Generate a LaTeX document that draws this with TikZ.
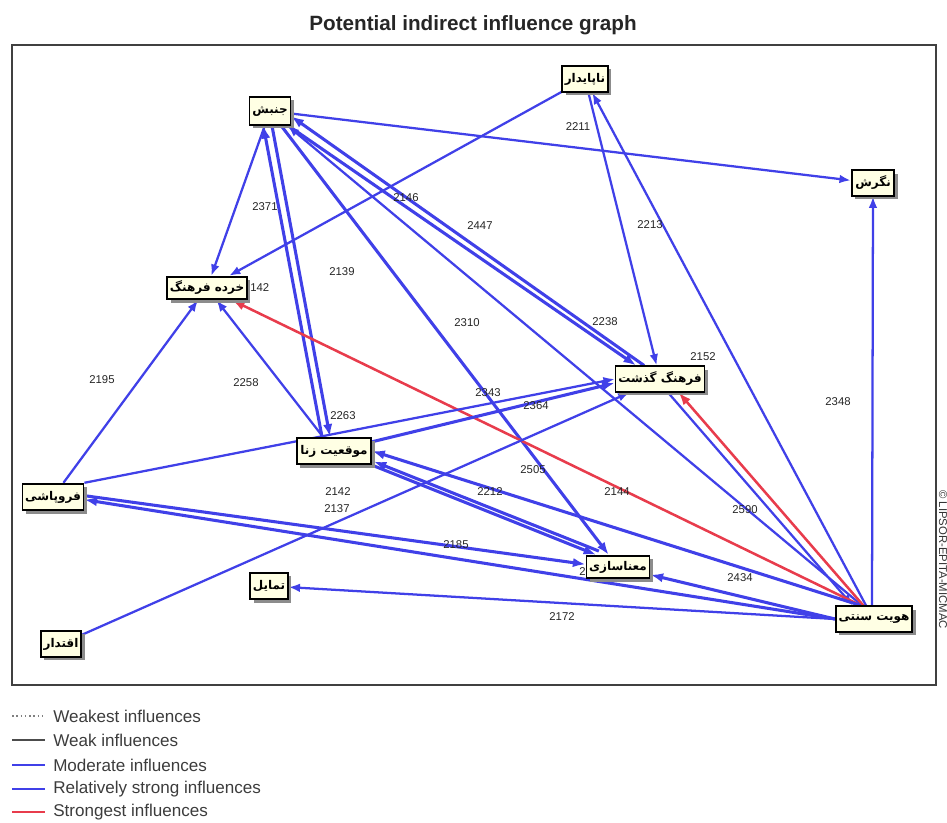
\documentclass[tikz,border=0pt]{standalone}
\usepackage{fontspec}
\setmainfont{Liberation Sans}
\newfontfamily\arabicfont[Script=Arabic]{DejaVu Sans}
\TeXXeTstate=1
\usetikzlibrary{arrows.meta,shadows,backgrounds}
\definecolor{eblue}{RGB}{64,64,232}
\definecolor{ered}{RGB}{232,60,76}
\definecolor{boxfill}{RGB}{255,255,228}
\definecolor{legtext}{RGB}{60,60,60}
\begin{document}
\begin{tikzpicture}[x=0.75pt,y=-0.75pt,
  vbox/.style={draw=black, line width=1.3pt, fill=boxfill, inner xsep=2pt, inner ysep=1pt,
    font=\arabicfont\bfseries\fontsize{9}{10}\selectfont,
    drop shadow={shadow xshift=2.6pt, shadow yshift=-2.6pt, fill=black!45, opacity=1}},
  num/.style={font=\fontsize{8.5}{9}\selectfont, inner sep=0pt, text=black!85},
  mod/.style={draw=eblue, line width=1.7pt, -{Latex[length=8.5pt,width=6.5pt]}},
  strong/.style={draw=eblue, line width=2.3pt, -{Latex[length=9.5pt,width=7pt]}},
  top/.style={draw=ered, line width=1.9pt, -{Latex[length=9.5pt,width=7pt]}},
  legline/.style={line width=#1},
  legtxt/.style={anchor=west, font=\fontsize{12.8}{14}\selectfont, text=legtext, inner sep=0pt}
]
\useasboundingbox (0,0) rectangle (947,823);

% title and frame
\node[font=\bfseries\fontsize{15.5}{17}\selectfont, text=black!85] (title) at (473,25) {Potential indirect influence graph};
\draw[line width=1.1pt, draw=black!75] (12,45) rectangle (936,685);
\node[rotate=-90, anchor=base west, font=\fontsize{8.5}{9}\selectfont, text=black!80, inner sep=0pt] (copy) at (939,490) {\textcopyright\ LIPSOR-EPITA-MICMAC};

% nodes
\node[vbox, minimum width=30pt, minimum height=21pt] (jon) at (270,111) {\beginR جنبش\endR};
\node[vbox, minimum width=33pt, minimum height=19.5pt] (nap) at (585,79) {\beginR ناپایدار\endR};
\node[vbox, minimum width=32pt, minimum height=19pt] (neg) at (873,183) {\beginR نگرش\endR};
\node[vbox, minimum width=59pt, minimum height=17pt] (kho) at (207,288) {\beginR خرده فرهنگ\endR};
\node[vbox, minimum width=66pt, minimum height=19pt] (far) at (660,379) {\beginR فرهنگ گذشت\endR};
\node[vbox, minimum width=56pt, minimum height=20pt] (mow) at (334,451) {\beginR موقعیت زنا\endR};
\node[vbox, minimum width=43pt, minimum height=20pt] (forup) at (53,497) {\beginR فروپاشی\endR};
\node[vbox, minimum width=47pt, minimum height=17pt] (mana) at (618,567) {\beginR معناسازی\endR};
\node[vbox, minimum width=26pt, minimum height=20pt] (tam) at (269,586) {\beginR تمایل\endR};
\node[vbox, minimum width=28pt, minimum height=19.5pt] (eqt) at (61,644) {\beginR اقتدار\endR};
\node[vbox, minimum width=54pt, minimum height=19pt] (hov) at (874,619) {\beginR هویت سنتی\endR};

\begin{scope}[on background layer]
% connectors
\draw[mod] (jon) -- (neg);
\draw[mod] (nap) -- (kho);
\draw[mod] (jon) -- (kho);
\draw[strong] ([xshift=1.5pt]jon.south) -- ([xshift=-3pt]mow.north);
\draw[strong] ([xshift=-9pt]mow.north) -- ([xshift=-5pt]jon.south);
\draw[mod] (mow) -- (kho);
\draw[strong] ([xshift=-2pt]jon.south east) -- ([xshift=16pt]far.north west);
\draw[strong] ([xshift=22pt]far.north west) -- ([yshift=-4pt]jon.east);
\draw[strong] (jon) -- (mana);
\draw[mod] ([xshift=-9pt]hov.north) -- (jon);
\draw[mod] (nap) -- (far);
\draw[mod] ([xshift=-6pt]hov.north) -- (nap);
\draw[mod] ([xshift=-1.5pt]hov.north) -- (neg.south);
\draw[top] ([xshift=-8pt]hov.north) -- ([xshift=14pt]far.south);
\draw[mod] ([xshift=6pt]far.south) -- ([xshift=-16pt]hov.north);
\draw[top] ([xshift=-10pt]hov.north) -- (kho);
\draw[strong] ([xshift=-10pt]hov.north) -- (mow.east);
\draw[strong] (hov.west) -- (mana);
\draw[mod] (hov.west) -- (tam);
\draw[strong] (hov.west) -- ([yshift=-2pt]forup.east);
\draw[mod] (forup) -- (kho);
\draw[mod] (forup.north east) -- (far.west);
\draw[strong] (mow) -- ([yshift=-3pt]far.west);
\draw[mod] (eqt) -- (far);
\draw[strong] ([yshift=1pt]forup.east) -- ([yshift=2pt]mana.west);
\draw[strong] (mow.south east) -- ([xshift=8pt]mana.north west);
\draw[strong] ([xshift=10pt,yshift=2.8pt]mana.north west) -- ([xshift=1.1pt,yshift=2.8pt]mow.south east);

% connector labels
\node[num] (l1) at (578,127) {2211};
\node[num] (l2) at (265,207) {2371};
\node[num] (l3) at (406,198) {2146};
\node[num] (l4) at (480,226) {2447};
\node[num] (l5) at (650,225) {2213};
\node[num] (l6) at (342,272) {2139};
\node[num, anchor=west] (l7) at (250,288) {142};
\node[num] (l8) at (467,323) {2310};
\node[num] (l9) at (605,322) {2238};
\node[num] (l10) at (703,357) {2152};
\node[num] (l11) at (102,380) {2195};
\node[num] (l12) at (246,383) {2258};
\node[num] (l13) at (488,393) {2343};
\node[num] (l14) at (838,402) {2348};
\node[num] (l15) at (536,406) {2364};
\node[num] (l16) at (343,416) {2263};
\node[num] (l17) at (338,492) {2142};
\node[num] (l18) at (337,509) {2137};
\node[num] (l19) at (533,470) {2505};
\node[num] (l20) at (490,492) {2212};
\node[num] (l21) at (617,492) {2144};
\node[num] (l22) at (745,510) {2590};
\node[num] (l23) at (456,545) {2185};
\node[num, anchor=east] (l24) at (586,572) {2};
\node[num] (l25) at (740,578) {2434};
\node[num] (l26) at (562,617) {2172};
\end{scope}

% legend
\draw[legline=1.2pt, draw=black!50, dotted] (12,716) -- (45,716);
\draw[legline=1pt, draw=black!70] (12,740) -- (45,740);
\draw[legline=1.1pt, draw=eblue] (12,765) -- (45,765);
\draw[legline=2.2pt, draw=eblue] (12,789) -- (45,789);
\draw[legline=2.2pt, draw=ered] (12,812) -- (45,812);
\node[legtxt] (t1) at (53,716) {Weakest influences};
\node[legtxt] (t2) at (53,740) {Weak influences};
\node[legtxt] (t3) at (53,765) {Moderate influences};
\node[legtxt] (t4) at (53,789) {Relatively strong influences};
\node[legtxt] (t5) at (53,812) {Strongest influences};
\end{tikzpicture}
\end{document}
